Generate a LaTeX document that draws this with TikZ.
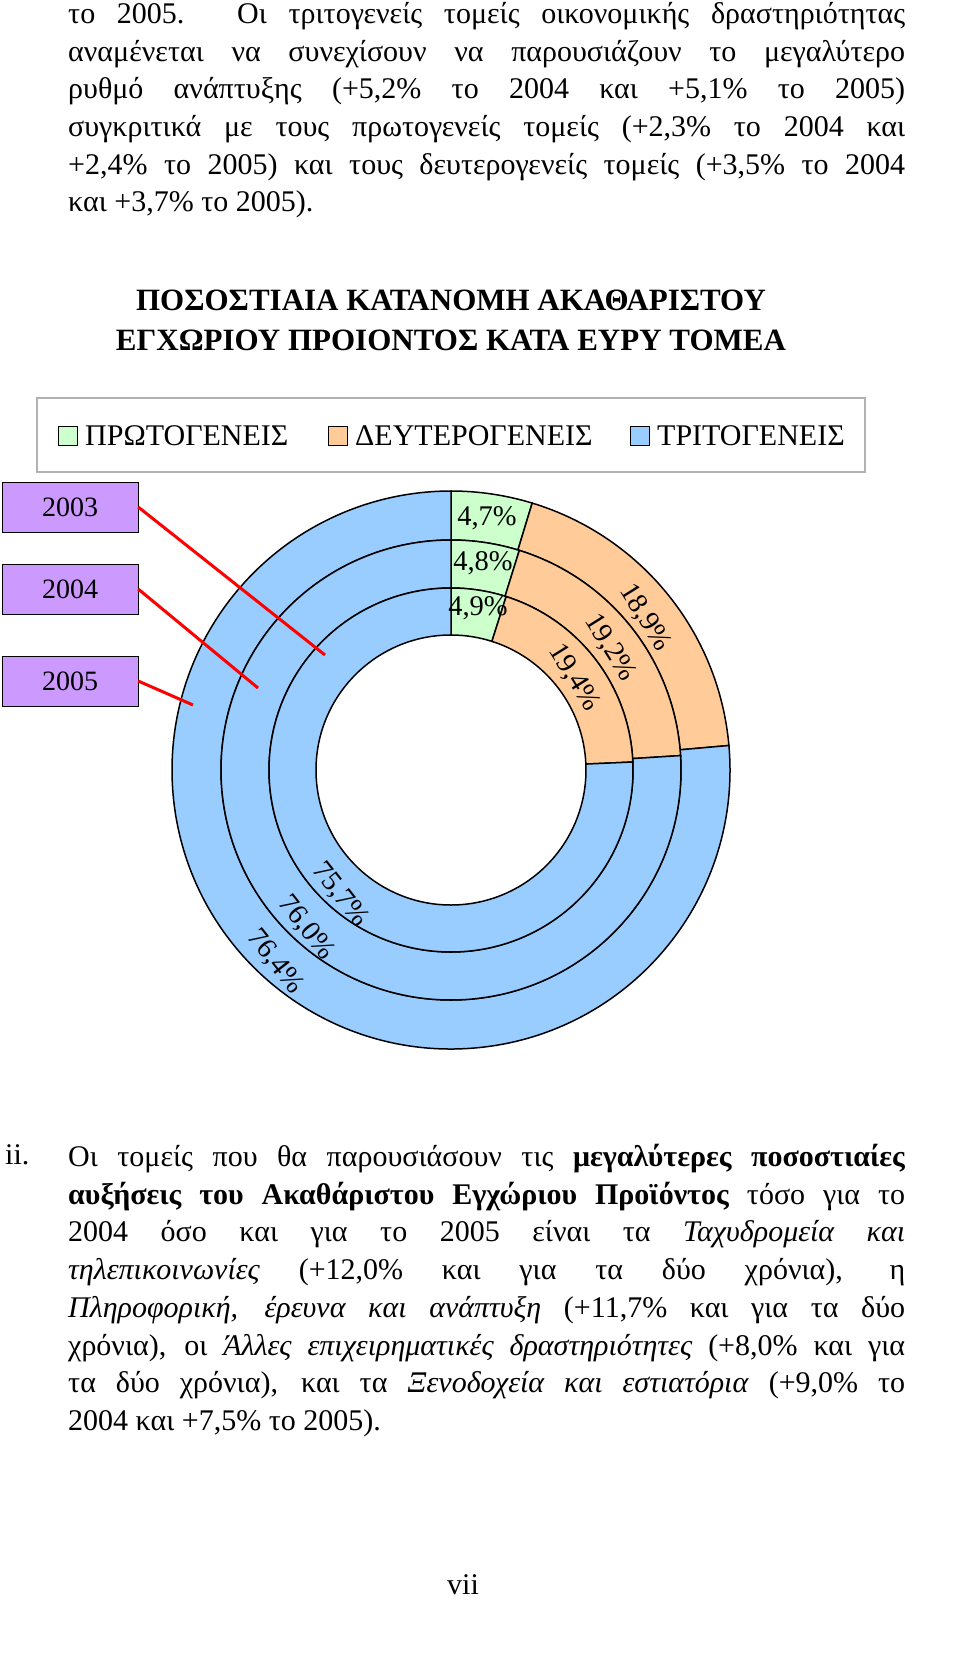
\documentclass[tikz,border=0pt]{standalone}
\usepackage{fontspec}
\setmainfont{Liberation Serif}
\definecolor{gr}{HTML}{CCFFCC}
\definecolor{og}{HTML}{FFCC99}
\definecolor{bl}{HTML}{99CCFF}
\definecolor{pu}{HTML}{CC99FF}
\tikzset{body/.style={anchor=north west,inner sep=0pt,text width=837pt,align=justify,font=\fontsize{30}{37.7}\selectfont},
 yr/.style={draw,fill=pu,minimum width=136pt,minimum height=50pt,inner sep=0pt,font=\fontsize{28}{30}\selectfont},
 pct/.style={font=\fontsize{28.5}{30}\selectfont,inner sep=0pt},
 seg/.style={draw=black,line width=1.5pt},
 lg/.style={draw=black,line width=1pt,minimum size=19pt,inner sep=0pt},
 lgt/.style={anchor=west,inner sep=0pt,font=\fontsize{30}{32}\selectfont},
 ptr/.style={red,line width=3pt}}
\newcommand{\ringseg}[5]{% r1 r2 startfrac endfrac color
 \pgfmathsetmacro{\aa}{90-360*#3}\pgfmathsetmacro{\bb}{90-360*#4}
 \filldraw[seg,fill=#5] (\aa:#2) arc[start angle=\aa,end angle=\bb,radius=#2] -- (\bb:#1) arc[start angle=\bb,end angle=\aa,radius=#1] -- cycle;}
\begin{document}
\begin{tikzpicture}[x=1pt,y=-1pt]
\useasboundingbox[fill=white] (0,0) rectangle (960,1657);
\node[body] (top) at (68,2) {το 2005. Οι τριτογενείς τομείς οικονομικής δραστηριότητας\linebreak αναμένεται να συνεχίσουν να παρουσιάζουν το μεγαλύτερο\linebreak ρυθμό ανάπτυξης (+5,2\% το 2004 και +5,1\% το 2005)\linebreak συγκριτικά με τους πρωτογενείς τομείς (+2,3\% το 2004 και\linebreak +2,4\% το 2005) και τους δευτερογενείς τομείς (+3,5\% το 2004\linebreak και +3,7\% το 2005).};
\node[font=\bfseries\fontsize{31}{40}\selectfont,align=center] (title) at (451,320) {ΠΟΣΟΣΤΙΑΙΑ ΚΑΤΑΝΟΜΗ ΑΚΑΘΑΡΙΣΤΟΥ\\ΕΓΧΩΡΙΟΥ ΠΡΟΙΟΝΤΟΣ ΚΑΤΑ ΕΥΡΥ ΤΟΜΕΑ};
\draw[gray!60,line width=1.2pt] (37,398) rectangle (865,472);
\node[lg,fill=gr] (s1) at (68,436) {}; \node[lgt] (t1) at (85,436) {ΠΡΩΤΟΓΕΝΕΙΣ};
\node[lg,fill=og] (s2) at (338,436) {}; \node[lgt] (t2) at (355,436) {ΔΕΥΤΕΡΟΓΕΝΕΙΣ};
\node[lg,fill=bl] (s3) at (640,436) {}; \node[lgt] (t3) at (657,436) {ΤΡΙΤΟΓΕΝΕΙΣ};
\begin{scope}[shift={(451,770)},yscale=-1]
\ringseg{230}{279}{0}{0.047}{gr}\ringseg{230}{279}{0.047}{0.236}{og}\ringseg{230}{279}{0.236}{1}{bl}
\ringseg{182}{230}{0}{0.048}{gr}\ringseg{182}{230}{0.048}{0.240}{og}\ringseg{182}{230}{0.240}{1}{bl}
\ringseg{135}{182}{0}{0.049}{gr}\ringseg{135}{182}{0.049}{0.243}{og}\ringseg{135}{182}{0.243}{1}{bl}
\end{scope}
\node[pct] (g1) at (487,518) {4,7\%};
\node[pct] (g2) at (483,563) {4,8\%};
\node[pct] (g3) at (478,608) {4,9\%};
\node[pct,rotate=-58] (o1) at (645,618) {18,9\%};
\node[pct,rotate=-58] (o2) at (610,648) {19,2\%};
\node[pct,rotate=-58] (o3) at (574,678) {19,4\%};
\node[pct,rotate=-52] (b1) at (340,895) {75,7\%};
\node[pct,rotate=-52] (b2) at (306,928) {76,0\%};
\node[pct,rotate=-52] (b3) at (275,962) {76,4\%};
\node[yr] (y3) at (70,507) {2003};
\node[yr] (y4) at (70,589) {2004};
\node[yr] (y5) at (70,681) {2005};
\coordinate (p3) at (325,655); \coordinate (p4) at (258,688); \coordinate (p5) at (193,705);
\draw[ptr] (y3.east) -- (p3); \draw[ptr] (y4.east) -- (p4); \draw[ptr] (y5.east) -- (p5);
\node[anchor=north west,inner sep=0pt,font=\fontsize{30}{37.7}\selectfont] (ii) at (5,1144) {ii.};
\node[body] (bot) at (68,1144) {Οι τομείς που θα παρουσιάσουν τις \textbf{μεγαλύτερες ποσοστιαίες}\linebreak \textbf{αυξήσεις του Ακαθάριστου Εγχώριου Προϊόντος} τόσο για το\linebreak 2004 όσο και για το 2005 είναι τα \textit{Ταχυδρομεία και}\linebreak \textit{τηλεπικοινωνίες} (+12,0\% και για τα δύο χρόνια), η\linebreak \textit{Πληροφορική, έρευνα και ανάπτυξη} (+11,7\% και για τα δύο\linebreak χρόνια), οι \textit{Άλλες επιχειρηματικές δραστηριότητες} (+8,0\% και για\linebreak τα δύο χρόνια), και τα \textit{Ξενοδοχεία και εστιατόρια} (+9,0\% το\linebreak 2004 και +7,5\% το 2005).};
\node[font=\fontsize{30}{32}\selectfont] (pg) at (463,1585) {vii};
\end{tikzpicture}
\end{document}
